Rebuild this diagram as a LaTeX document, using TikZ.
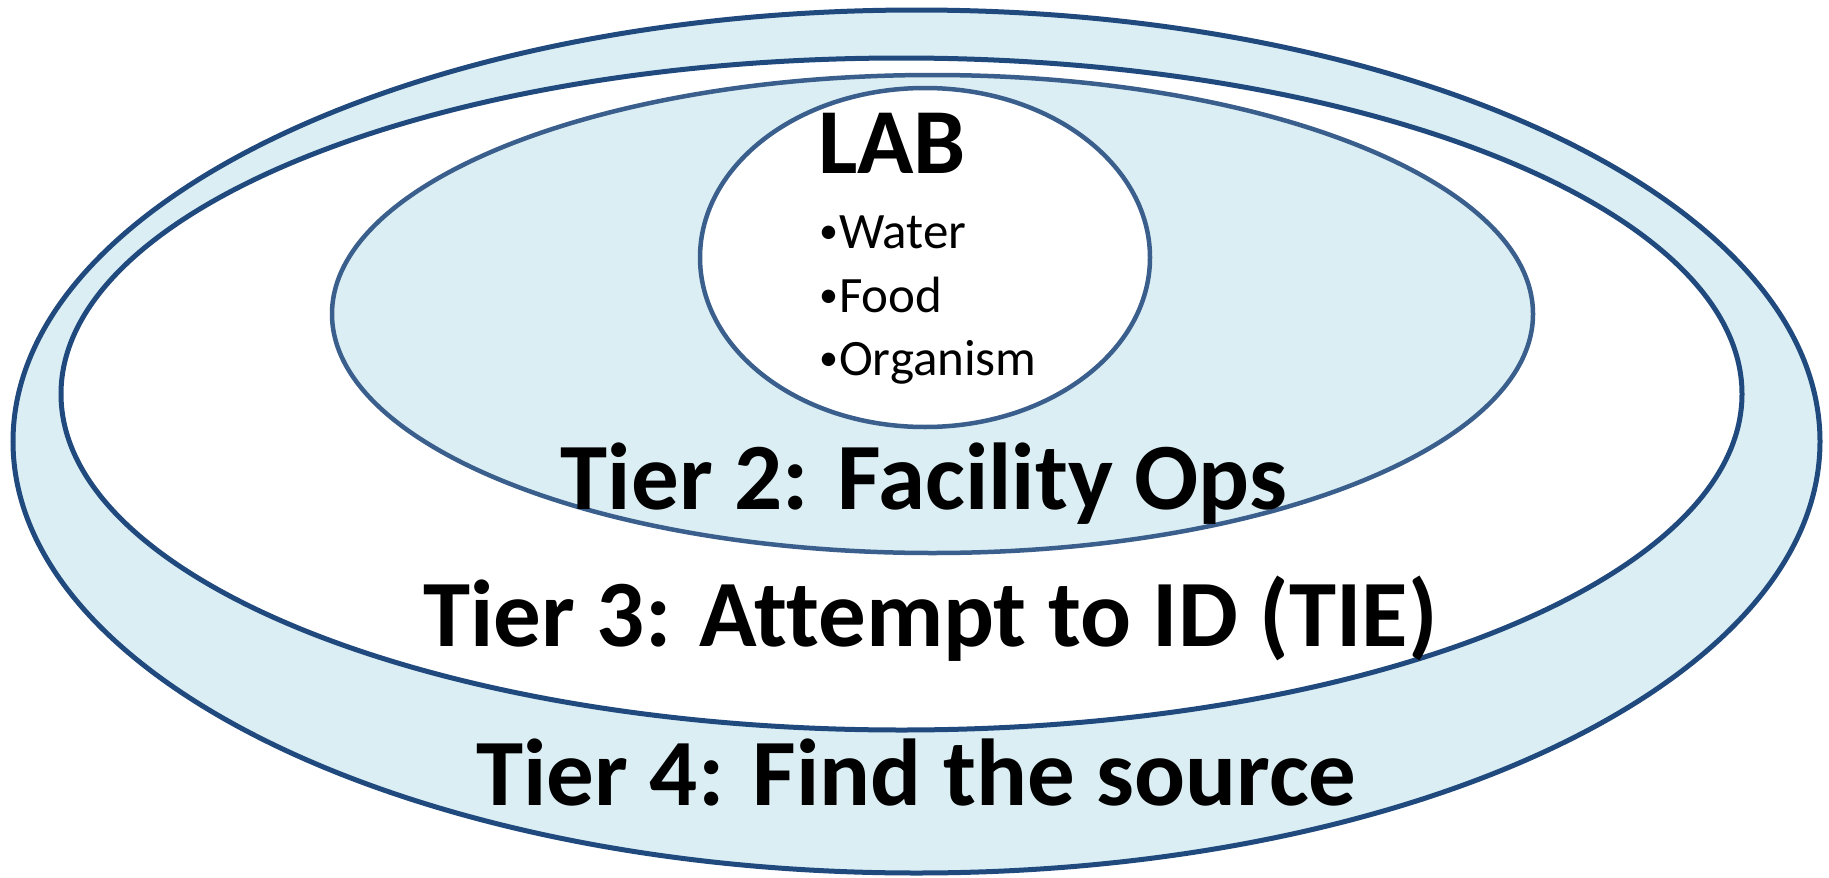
\documentclass[tikz,border=0pt]{standalone}
\usepackage{fontspec}
\setmainfont[Ligatures=NoCommon]{Carlito}
\definecolor{lightfill}{RGB}{219,238,244}
\definecolor{darkedge}{RGB}{32,74,126}
\definecolor{midedge}{RGB}{58,95,140}
\newcommand{\mybul}{{\fontsize{38}{38}\selectfont\raisebox{5pt}{•}}\hspace{1pt}}
\tikzset{
  ring/.style={line width=5pt},
  thinring/.style={line width=4.5pt},
  title/.style={font=\bfseries\fontsize{95}{95}\selectfont, inner sep=0pt, anchor=base},
  labtitle/.style={font=\bfseries\fontsize{93}{93}\selectfont, inner sep=0pt, anchor=base west},
  bullet/.style={font=\fontsize{51}{51}\selectfont, inner sep=0pt, anchor=base west}
}
\begin{document}
\begin{tikzpicture}[x=1pt,y=-1pt]
\useasboundingbox (0,0) rectangle (1829,878);
% tier 4 (outer)
\filldraw[ring, draw=darkedge, fill=lightfill] (916.5,441.5) ellipse [x radius=903.5pt, y radius=431.5pt];
% tier 3
\filldraw[ring, draw=darkedge, fill=white] (901.5,394) ellipse [x radius=840.5pt, y radius=336pt];
% tier 2
\filldraw[thinring, draw=midedge, fill=lightfill] (932.5,314) ellipse [x radius=600.5pt, y radius=239pt];
% lab
\filldraw[thinring, draw=midedge, fill=white] (925,257.5) ellipse [x radius=225pt, y radius=169.5pt];
% texts
\node[labtitle] (lab) at (818,173) {LAB};
\node[bullet] (water) at (819,248) {\mybul Water};
\node[bullet] (food) at (819,312) {\mybul Food};
\node[bullet] (org) at (819,375) {\mybul Organism};
\node[title] (t2) at (924,509) {Tier 2: Facility Ops};
\node[title] (t3) at (930.5,646) {Tier 3: Attempt to ID (TIE)};
\node[title] (t4) at (916.5,805) {Tier 4: Find the source};
\end{tikzpicture}
\end{document}
